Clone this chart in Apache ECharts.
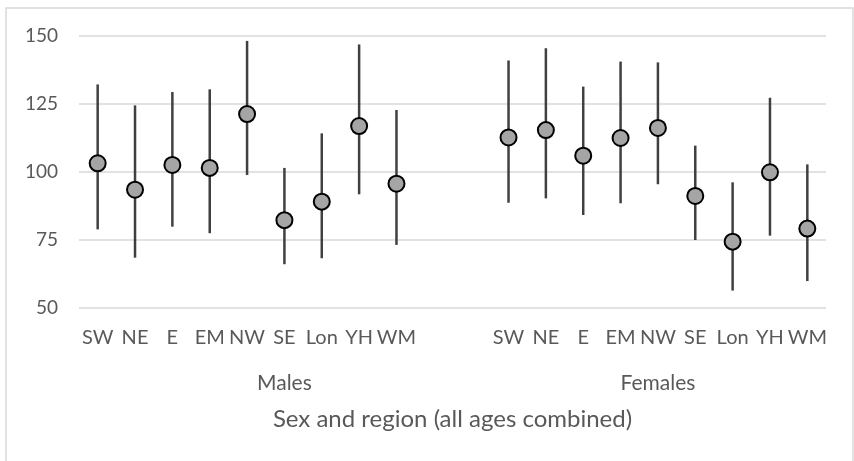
<!DOCTYPE html>
<html><head><meta charset="utf-8">
<script src="https://cdn.jsdelivr.net/npm/echarts@6/dist/echarts.min.js"></script>
<style>html,body{margin:0;padding:0;background:#fff}#c{width:854px;height:461px}</style>
</head><body><div id="c"></div>
<script>
var categories = ['SW','NE','E','EM','NW','SE','Lon','YH','WM','','','SW','NE','E','EM','NW','SE','Lon','YH','WM'];
var groupLabels = ['Males','Females'];
var groupCenters = [5.5, 15.5];
var yTicks = [50, 75, 100, 125, 150];
var estimate = [103.2,93.5,102.6,101.5,121.3,82.3,89.1,116.9,95.7,null,null,112.7,115.4,106.0,112.5,116.2,91.2,74.4,99.9,79.2];
var upper = [132.2,124.5,129.4,130.4,148.2,101.5,114.2,146.9,122.8,null,null,141.0,145.5,131.4,140.6,140.3,109.7,96.2,127.3,102.8];
var lower = [78.9,68.5,79.9,77.5,98.9,66.1,68.3,91.8,73.2,null,null,88.7,90.3,84.2,88.5,95.5,75.0,56.4,76.6,59.9];

var barData = [];
for (var i = 0; i < categories.length; i++) {
  if (estimate[i] != null) barData.push([i, lower[i], upper[i]]);
}
var pointData = estimate.map(function (v, i) { return v == null ? null : [i, v]; }).filter(Boolean);

var font = 'Lato, "Open Sans", sans-serif';
var txt = '#595959';
var chart = echarts.init(document.getElementById('c'));
chart.setOption({
  animation: false,
  grid: { left: 79, right: 28, top: 36, bottom: 153 },
  graphic: [{ type: 'rect', shape: { x: 6, y: 8, width: 847, height: 470 }, style: { fill: 'none', stroke: '#d9d9d9', lineWidth: 1.5 }, silent: true }],
  xAxis: [{
    type: 'category', data: categories, position: 'bottom',
    axisLine: { show: false }, axisTick: { show: false },
    axisLabel: { interval: 0, color: txt, fontFamily: font, fontSize: 20, margin: 20 }
  }, {
    type: 'value', min: 0, max: 20, interval: 0.5, position: 'bottom',
    axisLine: { show: false }, axisTick: { show: false }, splitLine: { show: false },
    axisLabel: {
      color: txt, fontFamily: font, fontSize: 21, margin: 65, showMinLabel: true, showMaxLabel: true,
      formatter: function (v) { var k = groupCenters.indexOf(v); return k >= 0 ? groupLabels[k] : ''; }
    },
    name: 'Sex and region (all ages combined)', nameLocation: 'middle', nameGap: 99,
    nameTextStyle: { color: txt, fontFamily: font, fontSize: 24 }
  }],
  yAxis: {
    type: 'value', min: yTicks[0], max: yTicks[yTicks.length - 1], interval: 25,
    axisLine: { show: false }, axisTick: { show: false },
    axisLabel: { color: txt, fontFamily: font, fontSize: 19, margin: 21 },
    splitLine: { lineStyle: { color: '#d9d9d9', width: 1.5 } }
  },
  series: [{
    type: 'custom', xAxisIndex: 0, data: barData, z: 2,
    renderItem: function (params, api) {
      var a = api.coord([api.value(0), api.value(1)]);
      var b = api.coord([api.value(0), api.value(2)]);
      return { type: 'line', shape: { x1: a[0], y1: a[1], x2: b[0], y2: b[1] }, style: { stroke: '#404040', lineWidth: 2.5 } };
    }
  }, {
    type: 'scatter', xAxisIndex: 0, data: pointData, symbol: 'circle', symbolSize: 16, z: 3,
    itemStyle: { color: '#a5a5a5', borderColor: '#000', borderWidth: 2, opacity: 1 }
  }]
});
</script></body></html>
